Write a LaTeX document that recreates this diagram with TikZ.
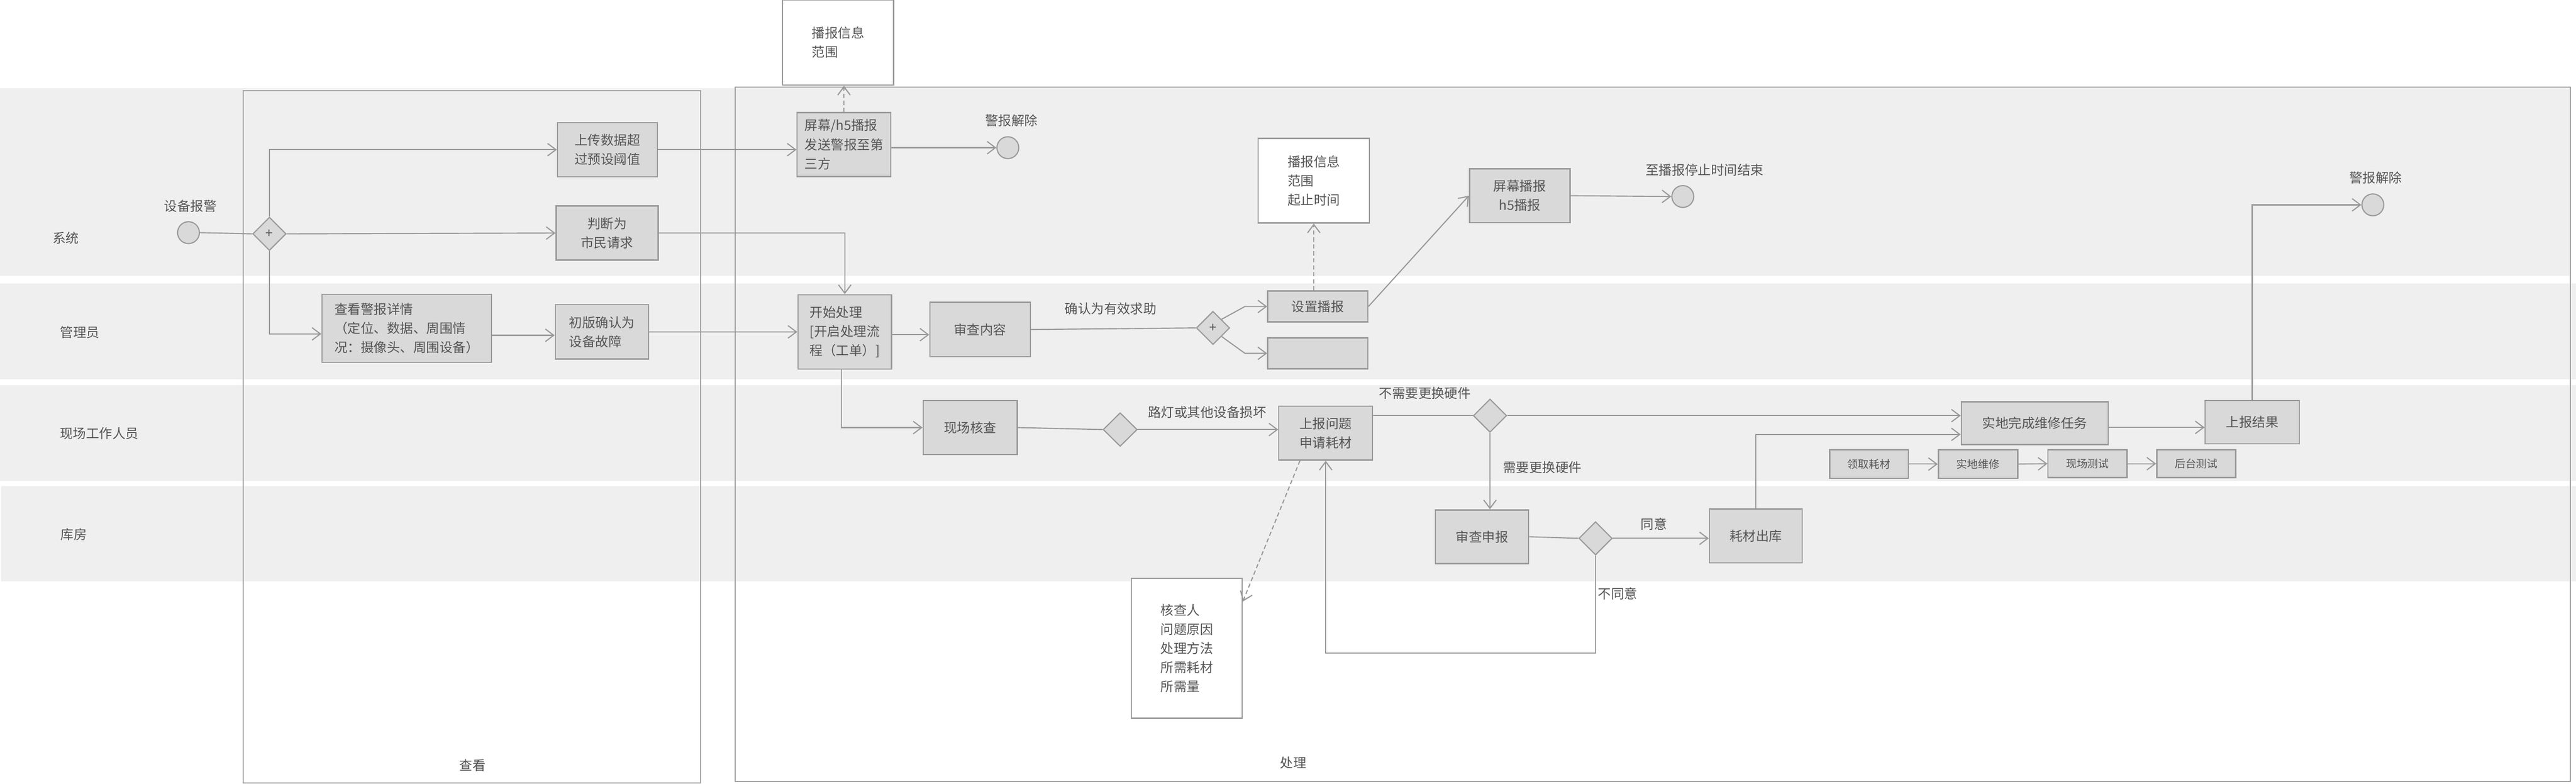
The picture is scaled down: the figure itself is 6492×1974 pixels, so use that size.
\documentclass[tikz,border=0pt]{standalone}
\usepackage{fontspec}
\setmainfont{Noto Sans CJK SC}
\usetikzlibrary{arrows.meta,shapes.geometric,calc}
\definecolor{lanebg}{HTML}{EFEFEF}
\definecolor{boxfill}{HTML}{D9D9D9}
\definecolor{edgecol}{HTML}{999999}
\definecolor{txt}{HTML}{555555}
\begin{document}
\begin{tikzpicture}[x=0.01cm,y=-0.01cm,
  every node/.style={text=txt, font=\fontsize{9.4}{13.7}\selectfont},
  task/.style={draw=edgecol, fill=boxfill, line width=0.9pt, inner sep=0pt, align=left},
  smalltask/.style={task, font=\fontsize{7.7}{10}\selectfont},
  memo/.style={draw=edgecol, fill=white, line width=0.9pt, inner sep=0pt, align=left},
  evt/.style={circle, draw=edgecol, fill=boxfill, line width=0.8pt, minimum size=0.55cm, inner sep=0pt},
  gate/.style={diamond, draw=edgecol, fill=boxfill, line width=0.8pt, minimum width=0.84cm, minimum height=0.84cm, inner sep=0pt},
  arr/.style={draw=edgecol, line width=0.8pt, -{Straight Barb[length=6pt,width=9pt]}},
  seqline/.style={draw=edgecol, line width=0.8pt},
  assoc/.style={arr, dash pattern=on 3pt off 2pt},
  lbl/.style={inner sep=0pt},
]
\useasboundingbox (0,0) rectangle (6492,1974);
% lanes
\fill[lanebg] (0,222) rectangle (6478,694);
\fill[lanebg] (0,714) rectangle (6492,955);
\fill[lanebg] (0,970) rectangle (6492,1211);
\fill[lanebg] (3,1224) rectangle (6492,1465);
% pools
\draw[edgecol, line width=0.8pt] (613,229) rectangle (1766,1972);
\draw[edgecol, line width=0.8pt] (1853,219) rectangle (6478,1968);

% lane and pool labels
\node[lbl] (laneA) at (166,600) {系统};
\node[lbl] (laneB) at (201,837) {管理员};
\node[lbl] (laneC) at (250,1092) {现场工作人员};
\node[lbl] (laneD) at (186,1346) {库房};
\node[lbl] (poolA) at (1191,1928) {查看};
\node[lbl] (poolB) at (3259,1922) {处理};

% system lane
\node[evt] (startE) at (475,586) {};
\node[lbl] (startL) at (480,519) {设备报警};
\node[gate] (g1) at (679,589) {+};
\node[task, minimum width=2.52cm, minimum height=1.36cm] (upload) at (1531,377) {上传数据超\\过预设阈值};
\node[task, minimum width=2.57cm, minimum height=1.36cm, align=center] (judge) at (1530,587) {判断为\\市民请求};
\node[memo, minimum width=2.80cm, minimum height=2.15cm] (info1) at (2112,107) {播报信息\\范围};
\node[task, minimum width=2.36cm, minimum height=1.61cm] (screen) at (2127,364) {屏幕/h5播报\\发送警报至第\\三方};
\node[evt] (end1) at (2540,372) {};
\node[lbl] (end1L) at (2549,303) {警报解除};
\node[memo, minimum width=2.80cm, minimum height=2.13cm] (info2) at (3311,455) {播报信息\\范围\\起止时间};
\node[task, minimum width=2.53cm, minimum height=1.36cm, align=center] (screen2) at (3830,493) {屏幕播报\\h5播报};
\node[evt] (end2) at (4241,495) {};
\node[lbl] (end2L) at (4296,428) {至播报停止时间结束};
\node[evt] (end3) at (5980,516) {};
\node[lbl] (end3L) at (5987,447) {警报解除};

% managers lane
\node[task, minimum width=4.27cm, minimum height=1.71cm] (view) at (1025,827) {查看警报详情\\（定位、数据、周围情\\况：摄像头、周围设备）};
\node[task, minimum width=2.35cm, minimum height=1.37cm] (pre) at (1517,836) {初版确认为\\设备故障};
\node[task, minimum width=2.36cm, minimum height=1.87cm] (start) at (2129,836) {开始处理\\{[}开启处理流\\程（工单）{]}};
\node[task, minimum width=2.53cm, minimum height=1.37cm] (review) at (2470,830) {审查内容};
\node[gate] (g2) at (3057,826) {+};
\node[task, minimum width=2.52cm, minimum height=0.78cm] (setb) at (3321,772) {设置播报};
\node[task, minimum width=2.52cm, minimum height=0.78cm] (emptyb) at (3321,890) {};

% field lane
\node[task, minimum width=2.37cm, minimum height=1.36cm] (check) at (2445,1077) {现场核查};
\node[gate, minimum width=0.86cm, minimum height=0.85cm] (g3) at (2823,1082) {};
\node[task, minimum width=2.36cm, minimum height=1.36cm] (report) at (3341,1091) {上报问题\\申请耗材};
\node[gate] (g4) at (3755,1047) {};
\node[task, minimum width=3.70cm, minimum height=1.08cm] (repair) at (5128,1066) {实地完成维修任务};
\node[smalltask, minimum width=1.98cm, minimum height=0.72cm] (fetch) at (4710,1169) {领取耗材};
\node[smalltask, minimum width=2.00cm, minimum height=0.72cm] (onsite) at (4985,1169) {实地维修};
\node[smalltask, minimum width=1.99cm, minimum height=0.70cm] (test1) at (5261,1168) {现场测试};
\node[smalltask, minimum width=1.99cm, minimum height=0.70cm] (test2) at (5535,1168) {后台测试};
\node[task, minimum width=2.37cm, minimum height=1.09cm] (result) at (5676,1063) {上报结果};

% warehouse lane
\node[task, minimum width=2.35cm, minimum height=1.35cm] (audit) at (3735,1352) {审查申报};
\node[gate] (g5) at (4021,1356) {};
\node[task, minimum width=2.34cm, minimum height=1.36cm] (out) at (4425,1350) {耗材出库};

% note below
\node[memo, minimum width=2.79cm, minimum height=3.52cm] (info3) at (2991,1633) {核查人\\问题原因\\处理方法\\所需耗材\\所需量};

% edge labels
\node[lbl] (l1) at (2799,778) {确认为有效求助};
\node[lbl] (l2) at (3042,1038) {路灯或其他设备损坏};
\node[lbl] (l3) at (3591,990) {不需要更换硬件};
\node[lbl] (l4) at (3887,1177) {需要更换硬件};
\node[lbl] (l5) at (4168,1320) {同意};
\node[lbl] (l6) at (4077,1495) {不同意};

% connectors
\draw[seqline] (startE.east) -- (g1.west);
\draw[arr] (g1.north) |- (upload.west);
\draw[arr] (g1.east) -- (judge.west);
\draw[arr] (g1.south) |- ([yshift=-4pt]view.west);
\draw[arr] (upload.east) -- (upload.east -| screen.west);
\draw[assoc] (screen.north) -- (screen.north |- info1.south);
\draw[arr] (end1.west -| screen.east) -- (end1.west);
\draw[arr] (judge.east) -| (start.north);
\draw[arr] ([yshift=-5pt]view.east) -- ([yshift=-5pt]view.east -| pre.west);
\draw[arr] (pre.east) -- (start.west);
\draw[arr] ([yshift=-2pt]start.east) -- ([yshift=-2pt]start.east -| review.west);
\draw[seqline] (review.east) -- (g2.west);
\draw[arr] (g2.north east) -- ($(setb.west)+(-56,0)$) -- (setb.west);
\draw[arr] (g2.south east) -- ($(emptyb.west)+(-56,0)$) -- (emptyb.west);
\draw[assoc] (info2.south |- setb.north) -- (info2.south);
\draw[arr] (setb.east) -- (screen2.west);
\draw[arr] (screen2.east) -- (end2.west);
\draw[arr] ([xshift=-2.5pt]start.south) |- (check.west);
\draw[seqline] (check.east) -- (g3.west);
\draw[arr] (g3.east) -- (g3.east -| report.west);
\draw[seqline] (g4.west -| report.east) -- (g4.west);
\draw[arr] (g4.east) -- (g4.east -| repair.west);
\draw[arr] (g4.south) -- (g4.south |- audit.north);
\draw[seqline] (audit.east) -- (g5.west);
\draw[arr] (g5.east) -- (g5.east -| out.west);
\draw[arr] (g5.south) -- ++(0,246) -| (report.south);
\draw[arr] (out.north) |- ([yshift=-8pt]repair.west);
\draw[arr] ([yshift=-3pt]repair.east) -- ([yshift=-3pt]repair.east -| result.west);
\draw[arr] (fetch.east) -- (onsite.west);
\draw[arr] (onsite.east) -- (test1.west);
\draw[arr] (test1.east) -- (test2.west);
\draw[arr] (result.north) |- (end3.west);
\draw[assoc] ([xshift=-18.5pt]report.south) -- ([yshift=-17pt]info3.north east);
\end{tikzpicture}
\end{document}
